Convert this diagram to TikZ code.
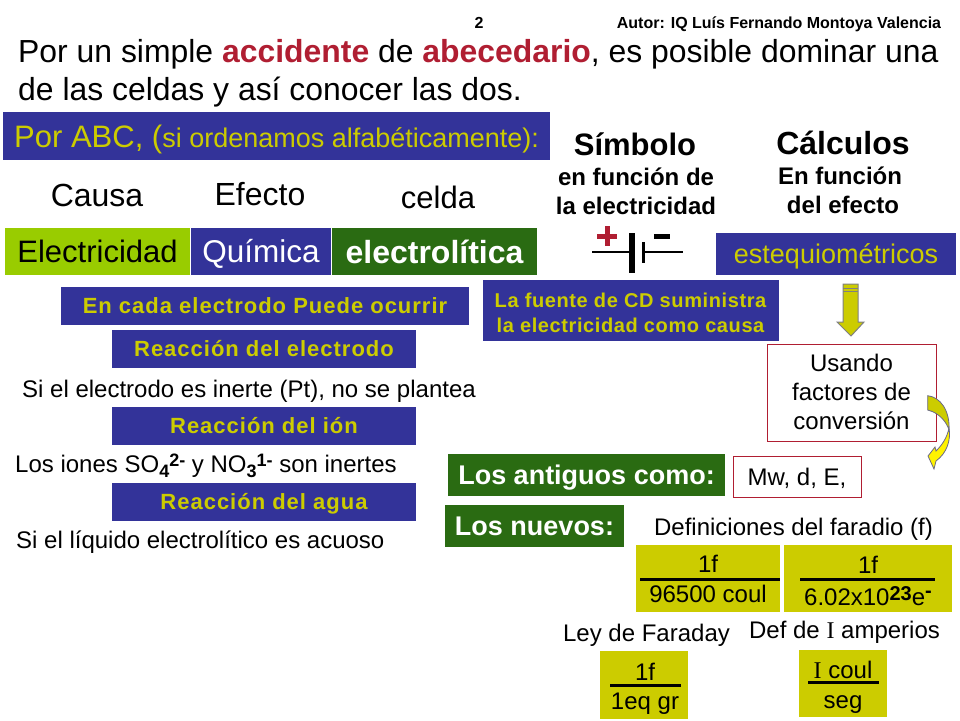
\documentclass[tikz,border=0pt]{standalone}
\usepackage{fontspec}
\setmainfont{Liberation Sans}
\newfontfamily\romanI{Liberation Serif}
\usetikzlibrary{positioning}
\definecolor{azul}{HTML}{333399}
\definecolor{oliva}{HTML}{CCCC00}
\definecolor{verde}{HTML}{99CC00}
\definecolor{pino}{HTML}{2A6B12}
\definecolor{guinda}{HTML}{B01E32}
\newcommand{\fs}[1]{\fontsize{#1}{#1}\selectfont}
\newcommand{\up}[1]{\raisebox{6pt}{\fs{18}\bfseries #1}}
\newcommand{\dn}[1]{\raisebox{-5pt}{\fs{18}\bfseries #1}}
\tikzset{
  letra/.style={font=\fs{#1}, text height=#1*.72pt, text depth=0pt},
  letrab/.style={font=\fs{#1}\bfseries, text height=#1*.72pt, text depth=0pt},
  plain/.style={inner sep=0pt, letra=24},
  rotulo/.style={plain, anchor=west},
  caja/.style={inner sep=0pt, minimum width=#1},
  azulbox/.style={caja=#1, fill=azul, text=oliva, minimum height=38pt,
    font=\fs{22}\bfseries\addfontfeature{LetterSpace=4.5}, text height=15.8pt, text depth=0pt},
  verdebox/.style={caja=#1, fill=pino, text=white, letrab=27, minimum height=42pt},
  marco/.style={caja=#1, draw=guinda, fill=white, letra=24},
  frac/.style={caja=#1, fill=oliva, minimum height=67pt},
  barra/.style={black, line width=3pt},
  bateria/.style={black, line width=2.6pt}
}
\begin{document}
\begin{tikzpicture}[x=1pt,y=-1pt]
    \useasboundingbox (0,0) rectangle (960,720);
    % encabezado
    \node[plain,letrab=16] (pag) at (479,23) {2};
    \node[plain,letrab=16] (autor) at (779,23) {Autor: IQ Luís Fernando Montoya Valencia};
    \node[rotulo,letra=31.9] (tit1) at (18,51) {Por un simple \textcolor{guinda}{\bfseries accidente} de \textcolor{guinda}{\bfseries abecedario}, es posible dominar una};
    \node[rotulo,letra=31.9] (tit2) at (18,89) {de las celdas y así conocer las dos.};
    \node[caja=547pt,fill=azul,minimum height=48pt] (abc) at (276.5,136) {};
    \node[rotulo,letra=31,text=oliva] (abct) at (14,136) {Por ABC, ({\fs{27}si ordenamos alfabéticamente):}};
    % columnas
    \node[plain,letra=32] (causa) at (97,195) {Causa};
    \node[plain,letra=32] (efecto) at (260,194) {Efecto};
    \node[plain,letra=31] (celda) at (438,197) {celda};
    \node[plain,letrab=31] (simb) at (635,144) {Símbolo};
    \node[plain,letrab=24] (simb1) at (636,177) {en función de};
    \node[plain,letrab=24] (simb2) at (636,206) {la electricidad};
    \node[plain,letrab=32] (calc) at (843,143) {Cálculos};
    \node[plain,letrab=24] (calc1) at (840,176) {En función};
    \node[plain,letrab=24] (calc2) at (843,205) {del efecto};
    % fila de la celda
    \node[caja=185pt,fill=verde,minimum height=47pt,letra=31] (elec) at (97.5,251.5) {Electricidad};
    \node[caja=140pt,fill=azul,text=white,minimum height=47pt,letra=31.5] (quim) at (261,251.5) {Química};
    \node[caja=205pt,fill=pino,text=white,minimum height=47pt,letrab=32] (lit) at (434.5,251.5) {electrolítica};
    % bateria
    \coordinate (b1) at (592,252);
    \coordinate (b2) at (632,252);
    \coordinate (b3) at (643,252);
    \coordinate (b4) at (683,252);
    \draw[bateria] (b1) -- (b2);
    \draw[bateria] (b3) -- (b4);
    \draw[black,line width=6pt] (632,233) -- (632,273);
    \draw[black,line width=3pt] (643.5,242) -- (643.5,263);
    \draw[guinda,line width=5pt] (597,236) -- (617,236) (607,226) -- (607,246);
    \draw[black,line width=5pt] (654,236) -- (670,236);
    \node[caja=240pt,fill=azul,text=oliva,minimum height=42pt,letra=27] (esteq) at (836,254) {estequiométricos};
    % columna izquierda
    \node[azulbox=408pt] (cada) at (265,306) {En cada electrodo Puede ocurrir};
    \node[azulbox=304pt] (relec) at (264,348.5) {Reacción del electrodo};
    \node[rotulo] (inerte) at (22,389) {Si el electrodo es inerte (Pt), no se plantea};
    \node[azulbox=304pt] (rion) at (264,426) {Reacción del ión};
    \node[rotulo] (iones) at (15,464) {Los iones SO\dn{4}\up{2-} y NO\dn{3}\up{1-} son inertes};
    \node[azulbox=304pt] (ragua) at (264,502) {Reacción del agua};
    \node[rotulo] (liq) at (16,540) {Si el líquido electrolítico es acuoso};
    % fuente
    \node[caja=296pt,fill=azul,minimum height=61pt] (fuente) at (631,310.5) {};
    \node[azulbox=1pt,fill=none,font=\fs{20}\bfseries\addfontfeature{LetterSpace=3},text height=14.4pt] (fuente1) at (630.5,300) {La fuente de CD suministra};
    \node[azulbox=1pt,fill=none,font=\fs{20}\bfseries\addfontfeature{LetterSpace=3},text height=14.4pt] (fuente2) at (630.5,325) {la electricidad como causa};
    % flecha recta
    \path[draw=gray,fill=oliva,line width=1pt] (843,284) -- (858,284) -- (858,322) -- (864,322) -- (851,336) -- (837,322) -- (843,322) -- cycle;
    \draw[gray,line width=1pt] (843,288) -- (858,288) (843,291) -- (858,291);
    \node[marco=169pt,minimum height=97pt] (usando) at (851.5,392.5) {};
    \node[plain] (us1) at (851.5,363) {Usando};
    \node[plain] (us2) at (851.5,392) {factores de};
    \node[plain] (us3) at (851.5,421) {conversión};
    % flecha curva
    \path[draw=gray!70!azul,fill=oliva,line width=0.8pt] (927.7,395.7) .. controls (940,397) and (950,410) .. (949,430) .. controls (947,423) and (940,413) .. (927.7,410) -- cycle;
    \path[draw=gray!70!azul,fill=yellow,line width=0.8pt] (949,428) .. controls (951,440) and (947,453) .. (936,461) -- (934,469) -- (928,456) -- (935,447) -- (936,451) .. controls (942,445) and (947,438) .. (949,428) -- cycle;
    % antiguos y nuevos
    \node[verdebox=277pt] (antig) at (586.5,475) {Los antiguos como:};
    \node[marco=128pt,minimum height=41pt] (mw) at (797,476.5) {Mw, d, E,};
    \node[verdebox=179pt] (nuevos) at (534.5,526) {Los nuevos:};
    \node[plain] (defin) at (793.5,527) {Definiciones del faradio (f)};
    % fracciones
    \node[frac=144pt] (f1) at (708,578.5) {};
    \node[plain] (f1a) at (708,564) {1f};
    \node[plain] (f1b) at (708,594) {96500 coul};
    \coordinate (f1l) at (640,579);
    \coordinate (f1r) at (780,579);
    \draw[barra] (f1l) -- (f1r);
    \node[frac=168pt] (f2) at (868,578.5) {};
    \node[plain] (f2a) at (868,565) {1f};
    \node[plain] (f2b) at (868,597) {6.02x10\raisebox{5pt}{\fs{20}\bfseries 23}e\raisebox{8pt}{\fs{20}\bfseries -}};
    \coordinate (f2l) at (800,579);
    \coordinate (f2r) at (935,579);
    \draw[barra] (f2l) -- (f2r);
    \node[plain] (ley) at (646.5,633) {Ley de Faraday};
    \node[plain] (defi) at (844.5,630) {Def de {\romanI I} amperios};
    \node[frac=88pt,minimum height=68pt] (f3) at (644,685) {};
    \node[plain] (f3a) at (645,672) {1f};
    \node[plain] (f3b) at (645,701) {1eq gr};
    \coordinate (f3l) at (610,685);
    \coordinate (f3r) at (681,685);
    \draw[barra] (f3l) -- (f3r);
    \node[frac=88pt] (f4) at (843,683.5) {};
    \node[plain] (f4a) at (843,670) {{\romanI I} coul};
    \node[plain] (f4b) at (843,700) {seg};
    \coordinate (f4l) at (808,682);
    \coordinate (f4r) at (879,682);
    \draw[barra] (f4l) -- (f4r);
\end{tikzpicture}
\end{document}
